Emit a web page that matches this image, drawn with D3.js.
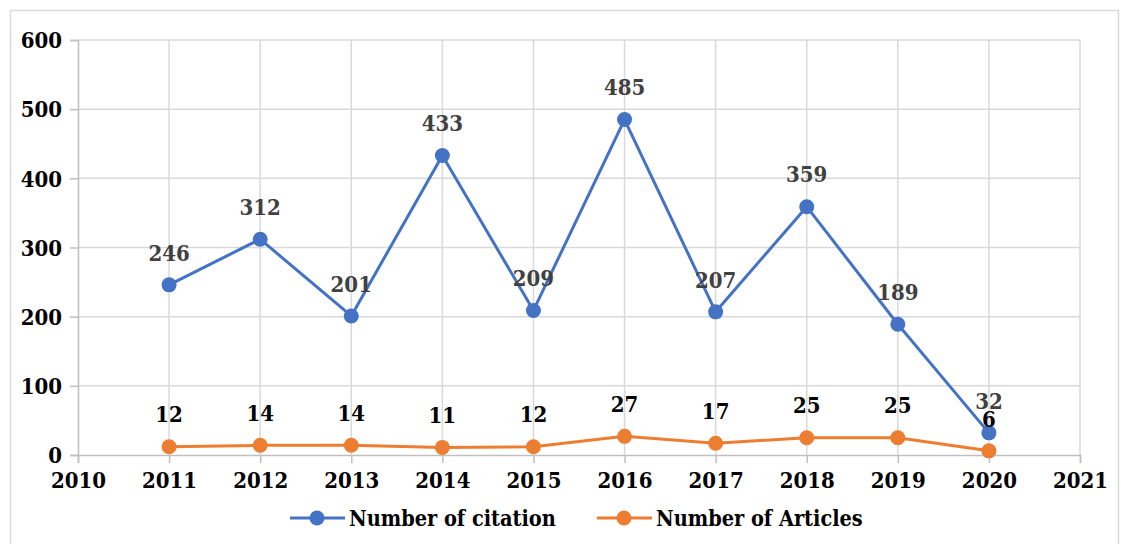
<!DOCTYPE html>
<html>
<head>
<meta charset="utf-8">
<script src="https://cdn.jsdelivr.net/npm/d3@7"></script>
<style>
  body { margin: 0; background: #fff; }
  svg text { font-family: "DejaVu Serif Condensed", "DejaVu Serif", serif; font-weight: bold; font-stretch: condensed; }
</style>
</head>
<body>
<div id="chart"></div>
<script>
var years = [2011, 2012, 2013, 2014, 2015, 2016, 2017, 2018, 2019, 2020];
var citations = [246, 312, 201, 433, 209, 485, 207, 359, 189, 32];
var articles = [12, 14, 14, 11, 12, 27, 17, 25, 25, 6];
var xTicks = [2010, 2011, 2012, 2013, 2014, 2015, 2016, 2017, 2018, 2019, 2020, 2021];
var yTicks = [0, 100, 200, 300, 400, 500, 600];

var W = 1121, H = 544;
var margin = { top: 40, right: 41, bottom: 89, left: 78 };
var width = W - margin.left - margin.right,
  height = H - margin.top - margin.bottom;

var svg = d3.select('#chart').append('svg').attr('width', W).attr('height', H);

svg.append('rect')
  .attr('x', 10.5).attr('y', 10.5)
  .attr('width', 1108).attr('height', 540)
  .attr('fill', 'none').attr('stroke', '#d9d9d9').attr('stroke-width', 1.5);

var g = svg.append('g').attr('transform', 'translate(' + margin.left + ',' + margin.top + ')');

var x = d3.scaleLinear().domain([2010, 2021]).range([0, width]);
var y = d3.scaleLinear().domain([0, 600]).range([height, 0]);

// grid
g.selectAll('.hgrid').data(yTicks.slice(1)).enter().append('line')
  .attr('x1', 0).attr('x2', width)
  .attr('y1', d => y(d)).attr('y2', d => y(d))
  .attr('stroke', '#d9d9d9').attr('stroke-width', 1.5);
g.selectAll('.vgrid').data(xTicks.slice(1)).enter().append('line')
  .attr('x1', d => x(d)).attr('x2', d => x(d))
  .attr('y1', 0).attr('y2', height)
  .attr('stroke', '#d9d9d9').attr('stroke-width', 1.5);

// axes
var yAxis = g.append('g')
  .call(d3.axisLeft(y).tickValues(yTicks).tickSize(8).tickPadding(8));
var xAxis = g.append('g').attr('transform', 'translate(0,' + height + ')')
  .call(d3.axisBottom(x).tickValues(xTicks).tickFormat(d3.format('d')).tickSize(8).tickPadding(9));

[yAxis, xAxis].forEach(function (a) {
  a.attr('font-family', null).attr('font-size', null);
  a.select('.domain').attr('stroke', '#bfbfbf').attr('stroke-width', 1.5);
  a.selectAll('.tick line').attr('stroke', '#bfbfbf').attr('stroke-width', 1.5);
  a.selectAll('.tick text').attr('fill', '#000').style('font-size', '22px');
});
yAxis.selectAll('.tick text').attr('dy', '0.35em');

var series = [
  { name: 'Number of citation', values: citations, color: '#4472C4', label: '#404040' },
  { name: 'Number of Articles', values: articles, color: '#ED7D31', label: '#000' }
];

var line = d3.line().x((d, i) => x(years[i])).y(d => y(d));

series.forEach(function (s) {
  g.append('path').datum(s.values)
    .attr('d', line).attr('fill', 'none')
    .attr('stroke', s.color).attr('stroke-width', 3).attr('stroke-linejoin', 'round');
  g.selectAll(null).data(s.values).enter().append('circle')
    .attr('cx', (d, i) => x(years[i])).attr('cy', d => y(d)).attr('r', 7.5)
    .attr('fill', s.color);
});

series.forEach(function (s) {
  g.selectAll(null).data(s.values).enter().append('text')
    .attr('x', (d, i) => x(years[i])).attr('y', d => y(d) - 32)
    .attr('dy', '0.35em').attr('text-anchor', 'middle')
    .attr('fill', s.label).style('font-size', '22px')
    .text(d => d);
});

// legend
var legend = svg.append('g').attr('transform', 'translate(0,518)');
var lx = [290, 597];
series.forEach(function (s, i) {
  var lg = legend.append('g').attr('transform', 'translate(' + lx[i] + ',0)');
  lg.append('line').attr('x1', 0).attr('x2', 55).attr('y1', 0).attr('y2', 0)
    .attr('stroke', s.color).attr('stroke-width', 3);
  lg.append('circle').attr('cx', 27).attr('cy', 0).attr('r', 7.5).attr('fill', s.color);
  lg.append('text').attr('x', 59).attr('y', 0).attr('dy', '0.35em')
    .style('font-size', '21.5px').attr('fill', '#000').text(s.name);
});
</script>
</body>
</html>
